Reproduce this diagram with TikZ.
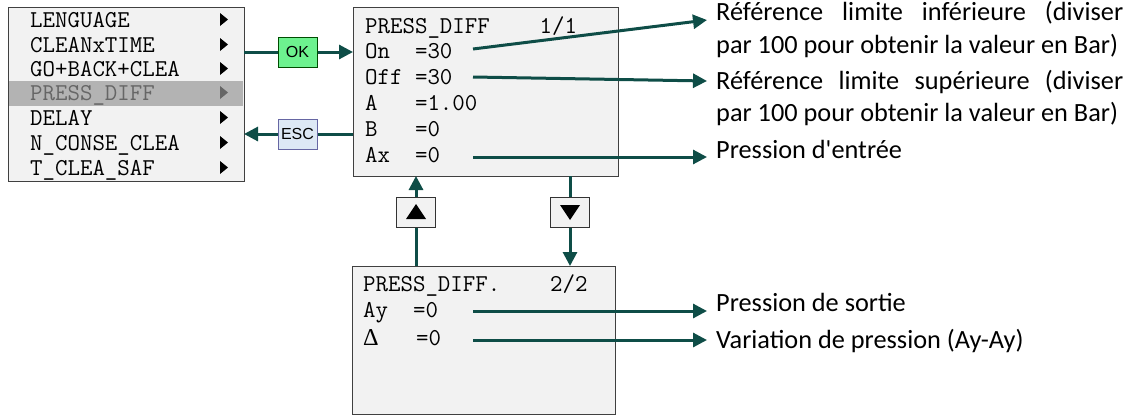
\documentclass[tikz,border=0pt]{standalone}
\usepackage{fontspec}
\newfontfamily\labfont{Carlito}
\newfontfamily\serifd{Liberation Serif}
\newfontfamily\btnfont{Liberation Sans}
\usetikzlibrary{arrows.meta}
\definecolor{teal}{HTML}{0E4D47}
\definecolor{scr}{HTML}{F2F2F2}
\definecolor{okfill}{HTML}{6DF28F}
\definecolor{escfill}{HTML}{DDE8F5}
\definecolor{hl}{HTML}{B3B3B3}
\tikzset{
  mono/.style={anchor=base west,inner sep=0pt,font=\fontsize{24.2}{28}\selectfont\ttfamily},
  lab/.style={anchor=base west,inner sep=0pt,font=\fontsize{26.3}{30}\selectfont\labfont},
  conn/.style={draw=teal,line width=3pt},
  arr/.style={conn,-{Triangle[length=14pt,width=14pt]}},
  screen/.style={draw=black!75,line width=1.3pt,fill=scr},
  keybox/.style={draw=black!80,line width=1pt,fill=scr,minimum width=39pt,minimum height=30pt,inner sep=0pt},
  btn/.style={line width=1pt,minimum width=39pt,minimum height=30pt,inner sep=0pt,font=\fontsize{16}{16}\selectfont\btnfont},
}
\newcommand{\rtri}[1]{\fill (220,#1-7) -- (228,#1-0.5) -- (220,#1+6) -- cycle;}
\begin{document}
\begin{tikzpicture}[x=1pt,y=-1pt]
\useasboundingbox (0,0) rectangle (1131,416);
% menu
\node[screen,minimum width=236pt,minimum height=174pt,anchor=north west,inner sep=0pt] (menu) at (8,7) {};
\fill[hl] (9,81) rectangle (243,106);
\node[mono] (m1) at (30,27) {LENGUAGE};
\node[mono] (m2) at (30,52) {CLEANxTIME};
\node[mono] (m3) at (30,76) {GO+BACK+CLEA};
\node[mono,text=black!60] (m4) at (30,100) {PRESS\_DIFF};
\node[mono] (m5) at (30,125) {DELAY};
\node[mono] (m6) at (30,150) {N\_CONSE\_CLEA};
\node[mono] (m7) at (30,175) {T\_CLEA\_SAF};
\rtri{20}\rtri{45}\rtri{69}
\begin{scope}[black!60]\rtri{93}\end{scope}
\rtri{118}\rtri{143}\rtri{168}
% screen 1
\node[screen,minimum width=265pt,minimum height=169pt,anchor=north west,inner sep=0pt] (s1) at (353,7) {};
\node[mono] (a0) at (365,33) {PRESS\_DIFF\ \ \ \ 1/1};
\node[mono] (a1) at (365,58) {On\ \ =30};
\node[mono] (a2) at (365,84) {Off =30};
\node[mono] (a3) at (365,110) {A\ \ \ =1.00};
\node[mono] (a4) at (365,136) {B\ \ \ =0};
\node[mono] (a5) at (365,162) {Ax\ \ =0};
% screen 2
\node[screen,minimum width=263pt,minimum height=148pt,anchor=north west,inner sep=0pt] (s2) at (352,266) {};
\node[mono] (b0) at (363,291) {PRESS\_DIFF.\ \ \ \ 2/2};
\node[mono] (b1) at (363,317) {Ay\ \ =0};
\node[mono] (b2) at (363,345) {{\serifd Δ}\ \ \ =0};
% OK / ESC
\node[btn,draw=black!70!green,fill=okfill] (ok) at (297.5,52) {OK};
\node[btn,draw=black!60!blue!60,fill=escfill] (esc) at (297.5,134) {ESC};
\draw[conn] (244,52) -- (ok.west);
\draw[arr] (ok.east) -- (353,52);
\draw[conn] (353,134) -- (esc.east);
\draw[arr] (esc.west) -- (244,134);
% up / down keys
\node[keybox] (up) at (416,212) {};
\fill (406,219) -- (416,204) -- (426,219) -- cycle;
\node[keybox] (dn) at (570,212) {};
\fill (560,205) -- (570,220) -- (580,205) -- cycle;
\draw[conn] (416,266) -- (up.south);
\draw[arr] (up.north) -- (416,176);
\draw[conn] (570,176) -- (dn.north);
\draw[arr] (dn.south) -- (570,266);
% labels
\node[lab] (l1) at (716,20) {\makebox[407pt][s]{Référence limite inférieure (diviser}};
\node[lab] (l2) at (716,53) {par 100 pour obtenir la valeur en Bar)};
\node[lab] (l3) at (716,89) {\makebox[407pt][s]{Référence limite supérieure (diviser}};
\node[lab] (l4) at (716,121) {par 100 pour obtenir la valeur en Bar)};
\node[lab] (l5) at (716,158) {Pression d'entrée};
\node[lab] (l6) at (716,311) {Pression de sortie};
\node[lab] (l7) at (716,348) {Variation de pression (Ay-Ay)};
\coordinate (e1) at (707,20);
\coordinate (e2) at (707,81);
\coordinate (e3) at (707,157);
\coordinate (e4) at (707,311);
\coordinate (e5) at (707,340);
\coordinate (o1) at (473,49);
\coordinate (o2) at (473,77);
\coordinate (o3) at (473,157);
\coordinate (o4) at (473,311);
\coordinate (o5) at (473,340);
\draw[arr] (o1) -- (e1);
\draw[arr] (o2) -- (e2);
\draw[arr] (o3) -- (e3);
\draw[arr] (o4) -- (e4);
\draw[arr] (o5) -- (e5);
\end{tikzpicture}
\end{document}
